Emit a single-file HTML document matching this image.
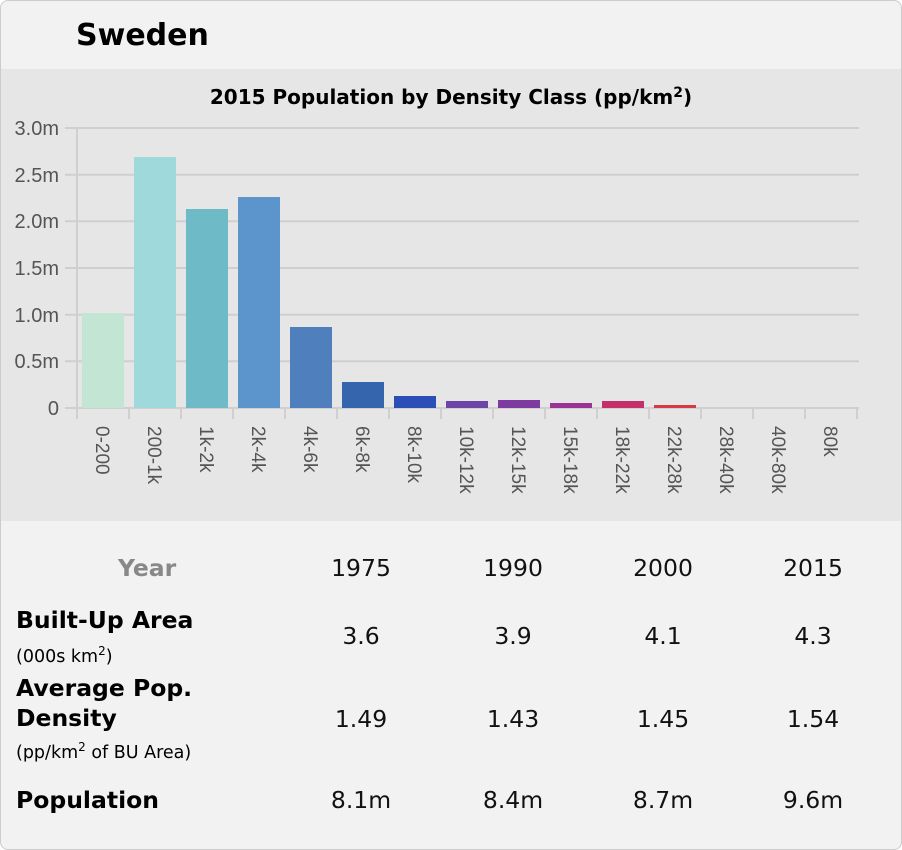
<!DOCTYPE html>
<html><head><style>
body{margin:0;background:#fff;font-family:"DejaVu Sans","Liberation Sans",sans-serif;}
.card{position:absolute;left:0;top:0;width:900px;height:848px;border:1px solid #ccc;border-radius:8px;background:#f2f2f2;overflow:hidden;}
.t{position:absolute;white-space:nowrap;}
.b{font-weight:bold;}
.v{font-size:23.5px;color:#111;transform:translateX(-50%);}
.h{font-size:23.5px;font-weight:bold;}
.s{font-size:17.5px;}
</style></head><body>
<div class="card">
<div class="t b" style="left:75px;top:17px;font-size:30px;color:#000">Sweden</div>
<div style="position:absolute;left:0;top:68px;width:902px;height:452px;background:#e6e6e7"></div>
<svg style="position:absolute;left:0;top:0" width="902" height="530" font-family="Liberation Sans, sans-serif">
<text x="450" y="103" text-anchor="middle" font-family="DejaVu Sans, sans-serif" font-weight="bold" font-size="20">2015 Population by Density Class (pp/km<tspan dy="-7" font-size="14">2</tspan><tspan dy="7">)</tspan></text>
<g stroke="#cfcfcf" stroke-width="2">
<line x1="64" x2="858" y1="127" y2="127"/><line x1="64" x2="858" y1="173.7" y2="173.7"/><line x1="64" x2="858" y1="220.3" y2="220.3"/><line x1="64" x2="858" y1="267" y2="267"/><line x1="64" x2="858" y1="313.7" y2="313.7"/><line x1="64" x2="858" y1="360.3" y2="360.3"/><line x1="64" x2="858" y1="407" y2="407"/>
<line x1="76" x2="76" y1="127" y2="418"/>
<line x1="128" x2="128" y1="407" y2="418"/><line x1="180" x2="180" y1="407" y2="418"/><line x1="232" x2="232" y1="407" y2="418"/><line x1="284" x2="284" y1="407" y2="418"/><line x1="336" x2="336" y1="407" y2="418"/><line x1="388" x2="388" y1="407" y2="418"/><line x1="440" x2="440" y1="407" y2="418"/><line x1="492" x2="492" y1="407" y2="418"/><line x1="544" x2="544" y1="407" y2="418"/><line x1="596" x2="596" y1="407" y2="418"/><line x1="648" x2="648" y1="407" y2="418"/><line x1="700" x2="700" y1="407" y2="418"/><line x1="752" x2="752" y1="407" y2="418"/><line x1="804" x2="804" y1="407" y2="418"/><line x1="856" x2="856" y1="407" y2="418"/>
</g>
<g font-size="20" fill="#555" text-anchor="end">
<text x="58" y="134">3.0m</text><text x="58" y="181">2.5m</text><text x="58" y="227">2.0m</text><text x="58" y="274">1.5m</text><text x="58" y="321">1.0m</text><text x="58" y="367">0.5m</text><text x="58" y="414">0</text>
</g>
<g>
<rect x="81" y="312" width="42" height="95" fill="#c3e6d4"/>
<rect x="133" y="156" width="42" height="251" fill="#a0d9dc"/>
<rect x="185" y="208" width="42" height="199" fill="#6fbac7"/>
<rect x="237" y="196" width="42" height="211" fill="#5b95cc"/>
<rect x="289" y="326" width="42" height="81" fill="#4f80bd"/>
<rect x="341" y="381" width="42" height="26" fill="#3566ad"/>
<rect x="393" y="395" width="42" height="12" fill="#2b4fb6"/>
<rect x="445" y="400" width="42" height="7" fill="#6b46a6"/>
<rect x="497" y="399" width="42" height="8" fill="#7d3a9f"/>
<rect x="549" y="402" width="42" height="5" fill="#9a3494"/>
<rect x="601" y="400" width="42" height="7" fill="#c4306a"/>
<rect x="653" y="404" width="42" height="3" fill="#d63a45"/>
</g>
<g font-size="19" fill="#555">
<text transform="translate(95,425) rotate(90)">0-200</text>
<text transform="translate(147,425) rotate(90)">200-1k</text>
<text transform="translate(199,425) rotate(90)">1k-2k</text>
<text transform="translate(251,425) rotate(90)">2k-4k</text>
<text transform="translate(303,425) rotate(90)">4k-6k</text>
<text transform="translate(355,425) rotate(90)">6k-8k</text>
<text transform="translate(407,425) rotate(90)">8k-10k</text>
<text transform="translate(459,425) rotate(90)">10k-12k</text>
<text transform="translate(511,425) rotate(90)">12k-15k</text>
<text transform="translate(563,425) rotate(90)">15k-18k</text>
<text transform="translate(615,425) rotate(90)">18k-22k</text>
<text transform="translate(667,425) rotate(90)">22k-28k</text>
<text transform="translate(719,425) rotate(90)">28k-40k</text>
<text transform="translate(771,425) rotate(90)">40k-80k</text>
<text transform="translate(823,425) rotate(90)">80k</text>
</g>
</svg>
<div class="t h" style="left:117px;top:553px;color:#888">Year</div>
<div class="t v" style="left:360px;top:553px">1975</div>
<div class="t v" style="left:512px;top:553px">1990</div>
<div class="t v" style="left:662px;top:553px">2000</div>
<div class="t v" style="left:812px;top:553px">2015</div>
<div class="t h" style="left:15px;top:605px">Built-Up Area</div>
<div class="t s" style="left:15px;top:643px">(000s km<sup style="font-size:12px">2</sup>)</div>
<div class="t v" style="left:360px;top:621px">3.6</div>
<div class="t v" style="left:512px;top:621px">3.9</div>
<div class="t v" style="left:662px;top:621px">4.1</div>
<div class="t v" style="left:812px;top:621px">4.3</div>
<div class="t h" style="left:15px;top:673px">Average Pop.</div>
<div class="t h" style="left:15px;top:703px">Density</div>
<div class="t s" style="left:15px;top:739px">(pp/km<sup style="font-size:12px">2</sup> of BU Area)</div>
<div class="t v" style="left:360px;top:704px">1.49</div>
<div class="t v" style="left:512px;top:704px">1.43</div>
<div class="t v" style="left:662px;top:704px">1.45</div>
<div class="t v" style="left:812px;top:704px">1.54</div>
<div class="t h" style="left:15px;top:785px">Population</div>
<div class="t v" style="left:360px;top:785px">8.1m</div>
<div class="t v" style="left:512px;top:785px">8.4m</div>
<div class="t v" style="left:662px;top:785px">8.7m</div>
<div class="t v" style="left:812px;top:785px">9.6m</div>
</div>
</body></html>
